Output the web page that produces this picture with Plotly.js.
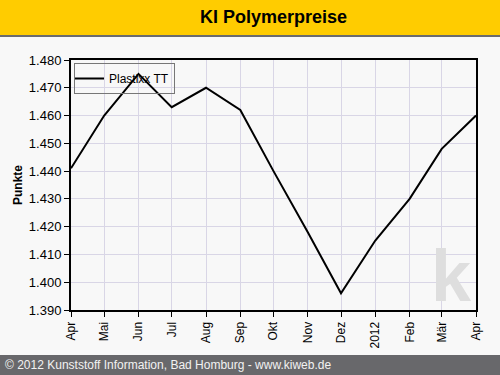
<!DOCTYPE html>
<html>
<head>
<meta charset="utf-8">
<script src="https://cdn.plot.ly/plotly-3.0.1.min.js"></script>
<style>html,body{margin:0;padding:0;background:#F8F8F8;}#chart{width:500px;height:375px;}</style>
</head>
<body>
<div id="chart"></div>
<script>
// Data
const dates = ["2011-04-01","2011-05-01","2011-06-01","2011-07-01","2011-08-01","2011-09-01","2011-10-01","2011-11-01","2011-12-01","2012-01-01","2012-02-01","2012-03-01","2012-04-01"];
const tickLabels = ["Apr","Mai","Jun","Jul","Aug","Sep","Okt","Nov","Dez","2012","Feb","Mär","Apr"];
const plastixxTT = [1441, 1460, 1475, 1463, 1470, 1462, 1440, 1418, 1396, 1415, 1430, 1448, 1460];
const seriesName = "Plastixx TT";
const chartTitle = "KI Polymerpreise";
const yTitle = "Punkte";
const footerText = "© 2012 Kunststoff Information, Bad Homburg - www.kiweb.de";

// Geometry helpers (pixel -> paper)
const L = 71, R = 476, T = 60, B = 310, W = 500, H = 375;
const px = x => (x - L) / (R - L);
const py = y => (B - y) / (B - T);

const trace = {
  x: dates, y: plastixxTT, type: "scatter", mode: "lines", name: seriesName,
  line: {color: "#000000", width: 2}
};

const font = "Arial, 'Liberation Sans', sans-serif";

const layout = {
  width: W, height: H,
  margin: {l: L, r: W - R, t: T, b: H - B, pad: 0},
  paper_bgcolor: "#F8F8F8", plot_bgcolor: "#F8F8F8",
  separators: ",.",
  font: {family: font, size: 12, color: "#000"},
  showlegend: true,
  title: {text: "<b>" + chartTitle + "</b>", font: {family: font, size: 18, color: "#000"},
          x: 0.5, xref: "paper", xanchor: "center", y: 1 - 17/H, yref: "container", yanchor: "middle"},
  xaxis: {
    type: "date", range: [dates[0], dates[dates.length-1]],
    tickmode: "array", tickvals: dates, ticktext: tickLabels, tickangle: -90,
    ticks: "outside", ticklen: 5, tickcolor: "#000", tickwidth: 1,
    showgrid: true, gridcolor: "#D9D6E6", gridwidth: 1,
    showline: true, linecolor: "#000", linewidth: 2, mirror: true,
    tickfont: {family: font, size: 12, color: "#000"}, zeroline: false
  },
  yaxis: {
    range: [1390, 1480], dtick: 10, tick0: 1390, tickformat: ",.0f",
    ticks: "outside", ticklen: 5, tickcolor: "#000", tickwidth: 1,
    showgrid: true, gridcolor: "#D9D6E6", gridwidth: 1,
    showline: true, linecolor: "#000", linewidth: 2, mirror: true,
    tickfont: {family: font, size: 13, color: "#000"}, zeroline: false,
    title: {text: "<b>" + yTitle + "</b>", font: {family: font, size: 12, color: "#000"}, standoff: 4}
  },
  legend: {
    x: px(74), y: py(63), xanchor: "left", yanchor: "top",
    bgcolor: "rgba(0,0,0,0)", bordercolor: "#777777", borderwidth: 1,
    font: {family: font, size: 12, color: "#000"},
    itemwidth: 30, tracegroupgap: 0, indentation: -6
  },
  shapes: [
    {type: "rect", xref: "paper", yref: "paper", x0: px(0), x1: px(W), y0: py(35), y1: py(0),
     fillcolor: "#FFCC00", line: {width: 0}, layer: "below"},
    {type: "rect", xref: "paper", yref: "paper", x0: px(0), x1: px(W), y0: py(37), y1: py(35),
     fillcolor: "#6B6B6E", line: {width: 0}, layer: "below"},
    {type: "rect", xref: "paper", yref: "paper", x0: px(0), x1: px(W), y0: py(H), y1: py(355),
     fillcolor: "#68686B", line: {width: 0}, layer: "below"}
  ],
  annotations: [
    {text: footerText, xref: "paper", yref: "paper", x: px(3), y: py(365), xanchor: "left", yanchor: "middle",
     showarrow: false, font: {family: font, size: 12, color: "#F2F2F2"}},
    {text: "<b>k</b>", xref: "paper", yref: "paper", x: px(451), y: py(276), xanchor: "center", yanchor: "middle",
     showarrow: false, font: {family: font, size: 72, color: "#DEDEDE"}}
  ]
};

Plotly.newPlot("chart", [trace], layout, {displayModeBar: false, staticPlot: true});
</script>
</body>
</html>
